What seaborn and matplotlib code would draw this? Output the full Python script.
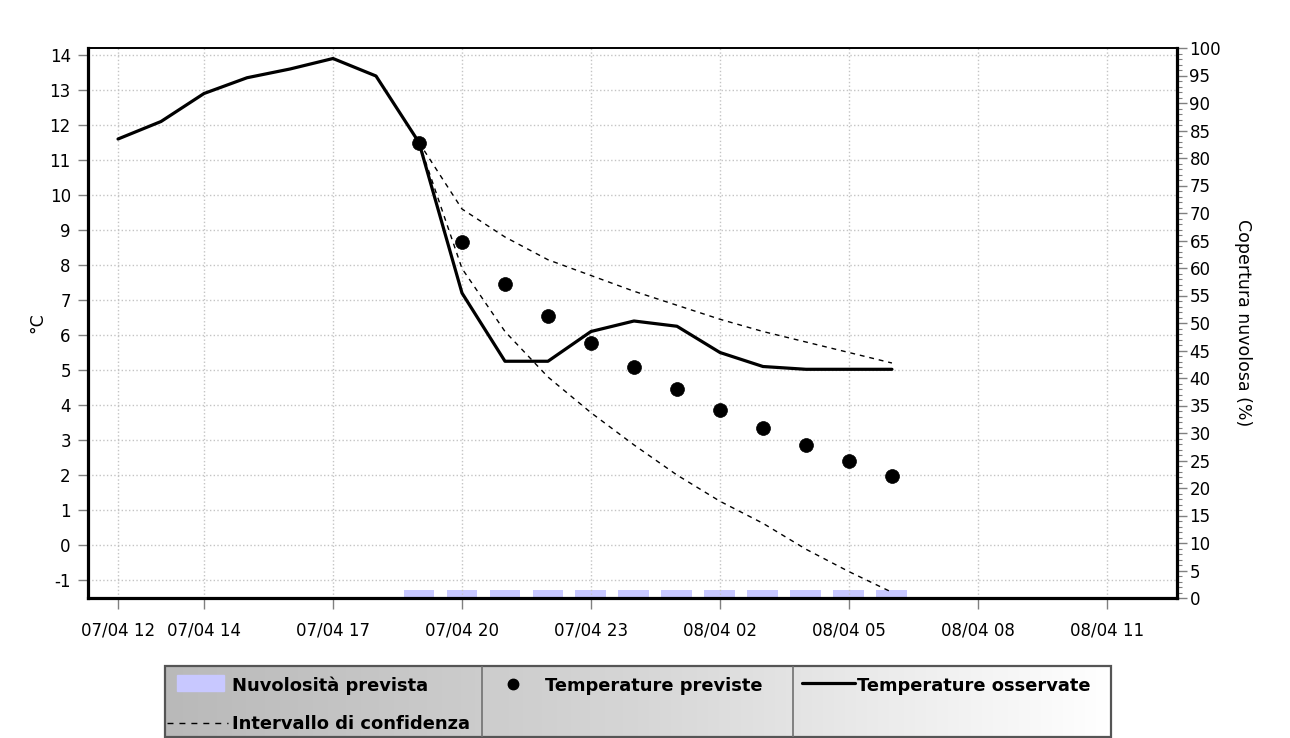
import numpy as np
import pandas as pd
import matplotlib
matplotlib.use("Agg")
import matplotlib.pyplot as plt
import seaborn as sns
from matplotlib.lines import Line2D
from matplotlib.patches import Rectangle
from matplotlib.colors import LinearSegmentedColormap
from matplotlib.ticker import MultipleLocator, FixedLocator

# ---------------- data ----------------
obs_hours = [12, 13, 14, 15, 16, 17, 18, 19, 20, 21, 22, 23, 24, 25, 26, 27, 28, 29, 30]
obs_temp = [11.6, 12.1, 12.9, 13.35, 13.6, 13.9, 13.4, 11.5, 7.2, 5.25, 5.25,
            6.1, 6.4, 6.25, 5.5, 5.1, 5.02, 5.02, 5.02]

fc_hours = [19, 20, 21, 22, 23, 24, 25, 26, 27, 28, 29, 30]
fc_temp = [11.5, 8.65, 7.45, 6.54, 5.76, 5.08, 4.45, 3.87, 3.33, 2.86, 2.4, 1.98]
ci_upper = [11.5, 9.6, 8.8, 8.15, 7.7, 7.25, 6.85, 6.45, 6.1, 5.8, 5.5, 5.2]
ci_lower = [11.5, 7.9, 6.1, 4.8, 3.78, 2.86, 2.0, 1.25, 0.62, -0.12, -0.76, -1.35]
cloud_cover = [1.4, 1.4, 1.4, 1.4, 1.4, 1.4, 1.4, 1.4, 1.4, 1.4, 1.4, 1.4]

tick_hours = [12, 14, 17, 20, 23, 26, 29, 32, 35]
tick_labels = ["07/04 12", "07/04 14", "07/04 17", "07/04 20", "07/04 23",
               "08/04 02", "08/04 05", "08/04 08", "08/04 11"]

temp_ticks = list(range(-1, 15))
cloud_ticks = list(range(0, 101, 5))

legend_labels = ["Nuvolosità prevista", "Intervallo di confidenza",
                 "Temperature previste", "Temperature osservate"]

# ---------------- style ----------------
sns.set_style("white")
plt.rcParams['font.family'] = ['DejaVu Sans']
plt.rcParams['text.color'] = 'black'
plt.rcParams['axes.labelcolor'] = 'black'
plt.rcParams['xtick.color'] = 'black'
plt.rcParams['ytick.color'] = 'black'

W, H = 1290, 738
fig = plt.figure(figsize=(W / 100, H / 100), dpi=100)
L_px, R_px, T_px, B_px = 87.5, 1177, 48, 598
ax = fig.add_axes([L_px / W, 1 - B_px / H, (R_px - L_px) / W, (B_px - T_px) / H])
ax2 = ax.twinx()

# cloud cover bars on secondary axis (drawn beneath)
sns.barplot(x=fc_hours, y=cloud_cover, native_scale=True, width=0.72,
            color="#c8c8ff", saturation=1, errorbar=None, ax=ax2,
            edgecolor="none", linewidth=0)

# temperature lines / points
sns.lineplot(x=fc_hours, y=ci_upper, ax=ax, color="black", lw=1.0, legend=False)
sns.lineplot(x=fc_hours, y=ci_lower, ax=ax, color="black", lw=1.0, legend=False)
for ln in ax.lines:
    ln.set_dashes((3.5, 3.5))
sns.lineplot(x=obs_hours, y=obs_temp, ax=ax, color="black", lw=2.3, legend=False)
sns.scatterplot(x=fc_hours, y=fc_temp, ax=ax, color="black", s=100,
                edgecolor="black", linewidth=0.5, legend=False, zorder=5)

ax.set_zorder(ax2.get_zorder() + 1)
ax.patch.set_visible(False)

# limits
ax.set_xlim(11.29, 36.63)
ax2.set_xlim(11.29, 36.63)
ax.set_ylim(-1.514, 14.2)
ax2.set_ylim(0, 100)

# ticks
ax.xaxis.set_major_locator(FixedLocator(tick_hours))
ax.set_xticklabels(tick_labels)
ax.yaxis.set_major_locator(FixedLocator(temp_ticks))
ax.set_yticklabels([str(t) for t in temp_ticks])
ax.tick_params(axis='x', length=8, width=1, color='#808080', labelcolor='black',
               pad=9, labelsize=12, bottom=True)
ax.tick_params(axis='y', length=7, width=1, color='#808080', labelcolor='black',
               pad=5, labelsize=12, left=True)
ax2.yaxis.set_major_locator(FixedLocator(cloud_ticks))
ax2.yaxis.set_minor_locator(MultipleLocator(1))
ax2.set_yticklabels([str(t) for t in cloud_ticks])
ax2.tick_params(axis='y', which='major', length=7, width=1, color='#808080',
                labelcolor='black', pad=2, labelsize=12, right=True)
ax2.tick_params(axis='y', which='minor', length=3.5, width=0.8, color='#808080',
                right=True)
ax2.tick_params(axis='x', bottom=False, top=False, labelbottom=False)

ax.grid(True, color='#c4c4c4', linestyle=':', linewidth=1.0)
ax2.grid(False)

ax.set_xlabel("")
ax2.set_xlabel("")
ax.set_ylabel("°C", fontsize=12.5, labelpad=2, color='black')
ax2.set_ylabel("Copertura nuvolosa (%)", fontsize=12.5, rotation=270,
               labelpad=22, color='black')

for s in ["left", "bottom", "right"]:
    ax.spines[s].set_linewidth(2.3)
    ax.spines[s].set_color("black")
ax.spines["top"].set_linewidth(1.4)
ax.spines["top"].set_color("black")
for s in ax2.spines.values():
    s.set_visible(False)

# ---------------- legend box ----------------
LL, LR, LT, LB = 165, 1111, 666, 737
lax = fig.add_axes([LL / W, 1 - LB / H, (LR - LL) / W, (LB - LT) / H])
lax.set_xlim(LL, LR)
lax.set_ylim(LB, LT)
lax.axis("off")
grad = LinearSegmentedColormap.from_list("g", ["#b9b9b9", "#d6d6d6", "#ffffff"])
lax.imshow(np.linspace(0, 1, 256)[None, :], cmap=grad, extent=[LL, LR, LB, LT],
           aspect="auto", zorder=0)
lax.add_patch(Rectangle((LL, LT), LR - LL, LB - LT, fill=False,
                        edgecolor="#555555", lw=1.6, zorder=3, clip_on=False))
for xs in (481.7, 793.3):
    lax.add_line(Line2D([xs, xs], [LT, LB], color="#707070", lw=1.2, zorder=3))

fkw = dict(fontsize=12.9, fontweight="bold", va="baseline", ha="left", color="black")
lax.add_patch(Rectangle((176.7, 675), 47.3, 16, color="#c8c8ff", zorder=2))
lax.text(231.7, 691, legend_labels[0], **fkw)
lax.add_line(Line2D([167, 228], [723.5, 723.5], color="black", lw=1.0,
                    dashes=(4.3, 4.3), zorder=2))
lax.text(231.7, 729, legend_labels[1], **fkw)
lax.add_line(Line2D([513], [684], marker="o", markersize=7.5, color="black",
                    ls="none", zorder=2))
lax.text(545, 691, legend_labels[2], **fkw)
lax.add_line(Line2D([801.7, 855], [683.5, 683.5], color="black", lw=2.3, zorder=2))
lax.text(857.3, 691, legend_labels[3], **fkw)

fig.savefig("out.png", dpi=100)
